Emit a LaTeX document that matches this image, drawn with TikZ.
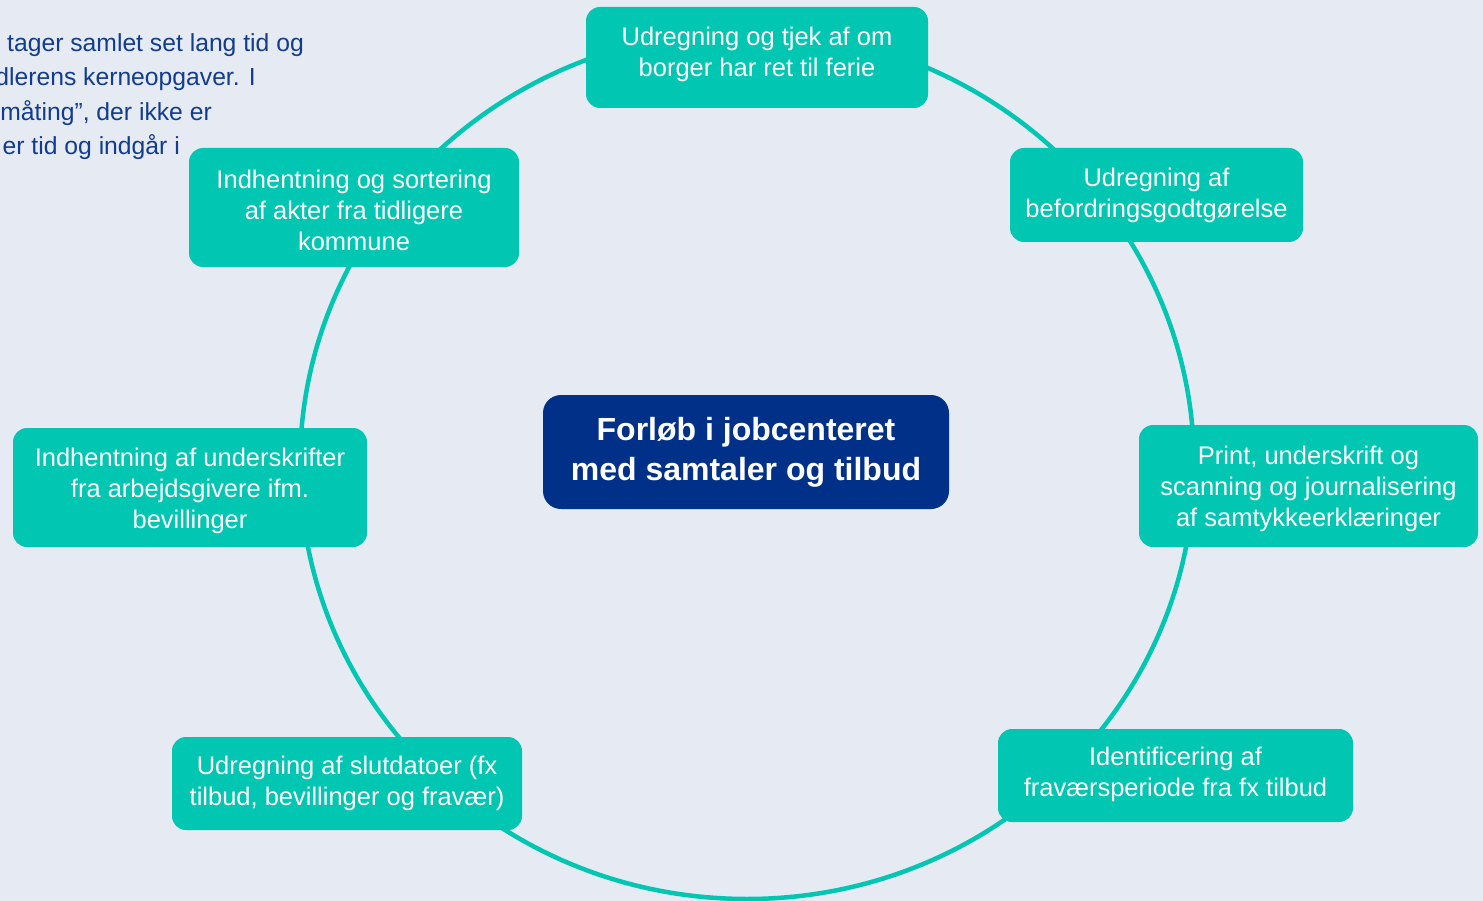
\documentclass[tikz,border=0pt]{standalone}
\usepackage{fontspec}
\setmainfont{Liberation Sans}
\definecolor{bgc}{HTML}{E5EAF3}
\definecolor{teal}{HTML}{00C6B2}
\definecolor{navy}{HTML}{003087}
\definecolor{txtblue}{HTML}{123C8E}
\tikzset{
  stepbox/.style={fill=teal, rounded corners=14pt, inner sep=0pt},
  steptext/.style={text=white, align=center, inner sep=0pt,
    font=\fontsize{25.5}{31}\selectfont},
  hubbox/.style={fill=navy, rounded corners=18pt, text=white, align=center, inner sep=0pt,
    font=\fontsize{32}{40}\selectfont\bfseries},
  ring/.style={draw=teal, line width=4.5pt},
  note/.style={text=txtblue, inner sep=0pt, font=\fontsize{24.7}{34}\selectfont, anchor=base east}
}
\begin{document}
\begin{tikzpicture}[x=1pt,y=-1pt]
\useasboundingbox (0,0) rectangle (1483,901);
\clip (0,0) rectangle (1483,901);
\fill[bgc] (0,0) rectangle (1483,901);
% note text (cut at the left edge, as in the reference)
\node[note] (n1) at (304,52) {tager samlet set lang tid og};
\node[note] (n2) at (256,86) {dlerens kerneopgaver. I};
\node[note] (n3) at (212,121) {måting”, der ikke er};
\node[note] (n4) at (180,155) {er tid og indgår i};
% ring
\coordinate (c) at (747,465);
\draw[ring] (c) ellipse [x radius=447, y radius=434];
% hub
\node[hubbox, minimum width=406pt, minimum height=114pt] (hub) at (746,452) {Forløb i jobcenteret\\med samtaler og tilbud};
% steps: boxes
\node[stepbox, minimum width=342pt, minimum height=101pt] (s1) at (757,57.5) {};
\node[stepbox, minimum width=293pt, minimum height=94pt] (s2) at (1156.5,195) {};
\node[stepbox, minimum width=339pt, minimum height=122pt] (s3) at (1308.5,486) {};
\node[stepbox, minimum width=355pt, minimum height=93pt] (s4) at (1175.5,775.5) {};
\node[stepbox, minimum width=350pt, minimum height=93pt] (s5) at (347,783.5) {};
\node[stepbox, minimum width=354pt, minimum height=119pt] (s6) at (190,487.5) {};
\node[stepbox, minimum width=330pt, minimum height=119pt] (s7) at (354,207.5) {};
% steps: texts
\node[steptext] (t1) at ([yshift=3pt]s1.center) {Udregning og tjek af om\\borger har ret til ferie};
\node[steptext] (t2) at (s2.center) {Udregning af\\befordringsgodtgørelse};
\node[steptext] (t3) at ([yshift=-3pt]s3.center) {Print, underskrift og\\scanning og journalisering\\af samtykkeerklæringer};
\node[steptext] (t4) at ([yshift=1.5pt]s4.center) {Identificering af\\fraværsperiode fra fx tilbud};
\node[steptext] (t5) at ([yshift=0.5pt]s5.center) {Udregning af slutdatoer (fx\\tilbud, bevillinger og fravær)};
\node[steptext] (t6) at ([yshift=-3pt]s6.center) {Indhentning af underskrifter\\fra arbejdsgivere ifm.\\bevillinger};
\node[steptext] (t7) at ([yshift=-2.5pt]s7.center) {Indhentning og sortering\\af akter fra tidligere\\kommune};
\end{tikzpicture}
\end{document}
